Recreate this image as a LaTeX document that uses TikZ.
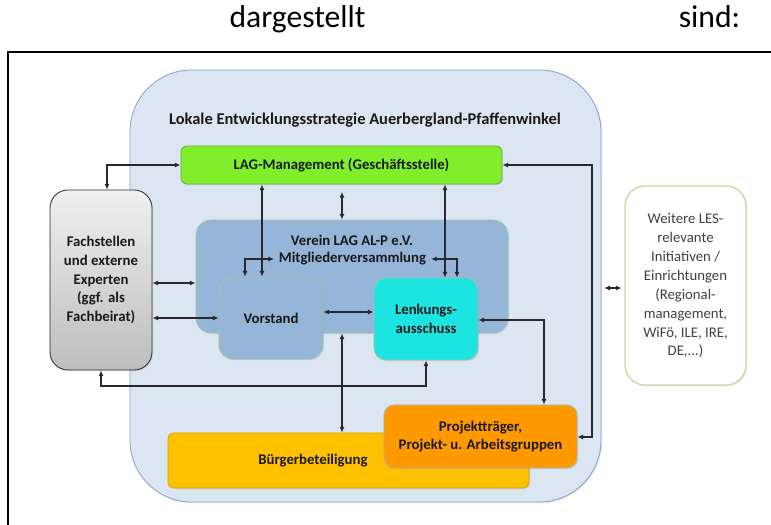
\documentclass[tikz,border=0pt]{standalone}
\usepackage{fontspec}
\setmainfont{Carlito}
\usepackage{tikz}
\usetikzlibrary{arrows.meta,calc,positioning,shadows}

\definecolor{lesblue}{RGB}{220,230,242}
\definecolor{lesedge}{RGB}{135,163,202}
\definecolor{laggreen}{RGB}{128,238,42}
\definecolor{lagedge}{RGB}{112,168,72}
\definecolor{vereinblue}{RGB}{149,181,217}
\definecolor{vereinedge}{RGB}{165,196,165}
\definecolor{lenkcyan}{RGB}{28,228,224}
\definecolor{projorange}{RGB}{255,153,0}
\definecolor{buergeryellow}{RGB}{255,192,0}
\definecolor{weiteredge}{RGB}{208,214,165}
\definecolor{arrowcol}{RGB}{40,40,46}
\definecolor{txtcol}{RGB}{25,25,25}

\tikzset{
  orgbox/.style={draw, align=center, text=txtcol, line width=0.6pt,
    font=\fontsize{10.5pt}{13.3pt}\selectfont\bfseries,
    drop shadow={shadow xshift=0.8pt, shadow yshift=-0.8pt, opacity=0.2}},
  orglabel/.style={text=txtcol, font=\fontsize{10.5pt}{13.3pt}\selectfont\bfseries},
  link/.style={{Latex[length=4pt,width=3.6pt]}-{Latex[length=4pt,width=3.6pt]},
    line width=0.8pt, draw=arrowcol},
}

\begin{document}
\begin{tikzpicture}[x=0.025cm, y=-0.025cm]
            \useasboundingbox (0,0) rectangle (771,525);
            % Text line above the frame
            \node[anchor=base, font=\fontsize{22.5pt}{27pt}\selectfont] (dargestellt) at (297.5,28) {dargestellt};
            \node[anchor=base, font=\fontsize{22.5pt}{27pt}\selectfont] (sind) at (709.5,28) {sind:};
            % Frame round the figure
            \draw[line width=1.4pt] (8,540) -- (8,52) -- (790,52);
            % Lokale Entwicklungsstrategie
            \node[draw=lesedge, fill=lesblue, line width=0.6pt, rounded corners=1.55cm, minimum width=11.775cm, minimum height=10.8cm,
              drop shadow={shadow xshift=0.8pt, shadow yshift=-0.8pt, opacity=0.2}] (les) at (365.5,286) {};
            \node[anchor=base, text=txtcol, font=\fontsize{11.7pt}{14pt}\selectfont\bfseries] (lestitle) at (365,125) {Lokale Entwicklungsstrategie Auerbergland-Pfaffenwinkel};
            % LAG-Management
            \node[orgbox, fill=laggreen, draw=lagedge, rounded corners=0.15cm, minimum width=8.025cm, minimum height=0.95cm] (lag) at (341.5,165) {LAG-Management (Geschäftsstelle)};
            % Fachstellen
            \node[orgbox, draw=gray!35!black, top color=gray!12, bottom color=gray!52, rounded corners=0.45cm, minimum width=2.55cm, minimum height=4.5cm] (fach) at (101,280) {Fachstellen\\und externe\\Experten\\(ggf. als\\Fachbeirat)};
            % Verein with Vorstand and Lenkungsausschuss
            \node[orgbox, fill=vereinblue, draw=vereinedge, rounded corners=0.38cm, minimum width=7.8cm, minimum height=2.825cm] (verein) at (352,276.5) {};
            \node[orglabel] (vtitle) at (352,240) {Verein LAG AL-P e.V.};
            \node[orglabel] (mv) at (352.5,259) {Mitgliederversammlung};
            \node[orgbox, fill=vereinblue, draw=vereinedge, rounded corners=0.35cm, minimum width=2.6cm, minimum height=2.05cm] (vorstand) at (271,318) {Vorstand};
            \node[orgbox, fill=lenkcyan, draw=vereinedge, rounded corners=0.3cm, minimum width=2.6cm, minimum height=2.05cm] (lenkung) at (426,319) {Lenkungs-\\ausschuss};
            % Weitere Initiativen
            \node[orgbox, fill=white, draw=weiteredge, line width=1pt, rounded corners=0.5cm, minimum width=3.025cm, minimum height=4.975cm,
              text=black!75, font=\fontsize{10.5pt}{13.5pt}\selectfont] (weitere) at (685.5,285.5) {Weitere LES-\\relevante\\Initiativen /\\Einrichtungen\\(Regional-\\management,\\WiFö, ILE, IRE,\\DE,...)};
            % Bürgerbeteiligung and Projektträger
            \node[orgbox, fill=buergeryellow, draw=buergeryellow!85!black, rounded corners=0.15cm, minimum width=9.025cm, minimum height=1.375cm] (buerger) at (348.5,460.5) {};
            \node[orglabel] (buergertxt) at (313,461) {Bürgerbeteiligung};
            \node[orgbox, fill=projorange, draw=gray!60, rounded corners=0.25cm, minimum width=4.825cm, minimum height=1.575cm] (projekt) at (480.5,436.5) {Projektträger,\\Projekt- u. Arbeitsgruppen};
            % Connectors
            \draw[link] ($(fach.north)+(6,0)$) |- (lag.west);
            \draw[link] (262,0 |- lag.south) -- (262,0 |- vorstand.north);
            \draw[link] (342,192) -- (342,0 |- verein.north);
            \draw[link] (445,0 |- lag.south) -- (445,0 |- lenkung.north);
            \draw[link] (mv.west) -| (245,0 |- vorstand.north);
            \draw[link] (mv.east) -| (457,0 |- lenkung.north);
            \draw[link] (fach.east |- 0,283) -- (verein.west |- 0,283);
            \draw[link] (fach.east |- vorstand.west) -- (vorstand.west);
            \draw[link] (vorstand.east |- 0,312) -- (lenkung.west |- 0,312);
            \draw[link] (lenkung.east |- 0,320) -| (544,0 |- projekt.north);
            \coordinate (rbend) at (592,437);
            \draw[link] (lag.east) -| (rbend) -- (projekt.east |- rbend);
            \draw[link, shorten <=2pt, shorten >=2pt] (les.east |- 0,288) -- (weitere.west |- 0,288);
            \draw[link] (fach.south) |- (lenkung.south |- 0,386) -- (lenkung.south);
            \draw[link] (342,0 |- verein.south) -- (342,0 |- buerger.north);
          \end{tikzpicture}
\end{document}
